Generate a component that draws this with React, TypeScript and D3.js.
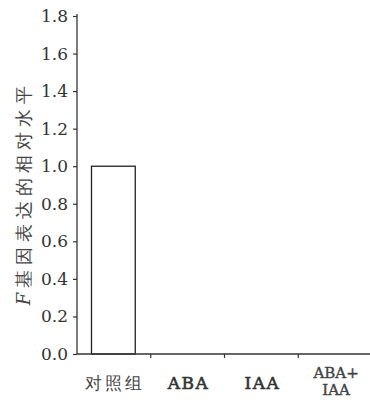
import React, { useEffect, useRef } from 'react';
import * as d3 from 'd3';

const categories = ['对照组', 'ABA', 'IAA', 'ABA+IAA'];
const values = [1.0, 0, 0, 0];
const yTicks = [0, 0.2, 0.4, 0.6, 0.8, 1.0, 1.2, 1.4, 1.6, 1.8];

const SERIF = "'DejaVu Serif', serif";

const App = () => {
  const ref = useRef<SVGSVGElement>(null);

  useEffect(() => {
    const svg = d3.select(ref.current);
    svg.selectAll('*').remove();
    const width = 370;
    const height = 405;
    const margin = { top: 16, left: 77, bottom: 51, right: 0 };
    const iwidth = width - margin.left - margin.right;
    const iheight = height - margin.top - margin.bottom;

    const g = svg.append('g').attr('transform', `translate(${margin.left},${margin.top})`);

    const y = d3.scaleLinear().domain([0, 1.8]).range([iheight, 0]);
    const x = d3.scaleBand().domain(categories).range([0, 295]).paddingInner(0).paddingOuter(0);

    // bars
    g.selectAll('rect.bar')
      .data(categories.map((c, i) => ({ name: c, v: values[i] })).filter((d) => d.v > 0))
      .enter()
      .append('rect')
      .attr('class', 'bar')
      .attr('x', (d) => x(d.name)! + 14.5)
      .attr('width', x.bandwidth() - 30)
      .attr('y', (d) => y(d.v))
      .attr('height', (d) => iheight - y(d.v))
      .attr('fill', '#fff')
      .attr('stroke', '#222')
      .attr('stroke-width', 1.3);

    // y axis
    const yAxis = g
      .append('g')
      .call(d3.axisLeft(y).tickValues(yTicks).tickFormat(d3.format('.1f')).tickSize(4).tickSizeOuter(0));
    yAxis.select('.domain').attr('stroke', '#333').attr('stroke-width', 1.3).attr('d', `M0,${iheight}V-2`);
    yAxis.selectAll('line').attr('stroke', '#333').attr('stroke-width', 1.2);
    yAxis
      .selectAll('text')
      .attr('font-family', SERIF)
      .attr('font-size', 17)
      .attr('fill', '#333')
      .attr('x', -9);

    // x axis
    const xAxis = g.append('g').attr('transform', `translate(0,${iheight})`);
    xAxis
      .append('line')
      .attr('x1', 0)
      .attr('x2', iwidth)
      .attr('stroke', '#333')
      .attr('stroke-width', 1.3);
    xAxis
      .selectAll('line.tick')
      .data(categories.slice(1))
      .enter()
      .append('line')
      .attr('class', 'tick')
      .attr('x1', (d) => x(d)!)
      .attr('x2', (d) => x(d)!)
      .attr('y1', 0)
      .attr('y2', 4)
      .attr('stroke', '#333')
      .attr('stroke-width', 1.2);

    const cx = (d: string) => x(d)! + x.bandwidth() / 2 + 1;
    const labels = xAxis
      .selectAll('text')
      .data(categories)
      .enter()
      .append('text')
      .attr('text-anchor', 'middle')
      .attr('font-family', SERIF)
      .attr('fill', '#222')
      .attr('x', cx);
    labels.each(function (d) {
      const t = d3.select(this);
      if (d.includes('+')) {
        const parts = d.split('+');
        t.attr('font-size', 15).attr('fill', '#444').attr('stroke', '#444').attr('stroke-width', 0.4);
        t.append('tspan').attr('x', cx(d)).attr('y', 24).text(parts[0] + '+');
        t.append('tspan').attr('x', cx(d)).attr('y', 41).text(parts[1]);
      } else if (/^[A-Z]+$/.test(d)) {
        t.attr('font-size', 17)
          .attr('letter-spacing', 1.5)
          .attr('fill', '#333')
          .attr('stroke', '#333')
          .attr('stroke-width', 0.6)
          .attr('y', 35)
          .text(d);
      } else {
        t.attr('font-size', 17).attr('letter-spacing', 3).attr('fill', '#444').attr('y', 35).text(d);
      }
    });

    // y label
    const ylab = svg
      .append('text')
      .attr('transform', `translate(30,193) rotate(-90)`)
      .attr('text-anchor', 'middle')
      .attr('font-family', SERIF)
      .attr('font-size', 18)
      .attr('letter-spacing', 5)
      .attr('fill', '#444');
    ylab.append('tspan').attr('font-style', 'italic').text('F');
    ylab.append('tspan').text('基因表达的相对水平');
  }, []);

  return (
    <svg
      ref={ref}
      width={370}
      height={405}
      style={{ position: 'absolute', left: 0, top: 0, background: '#fff' }}
    ></svg>
  );
};

export default App;
